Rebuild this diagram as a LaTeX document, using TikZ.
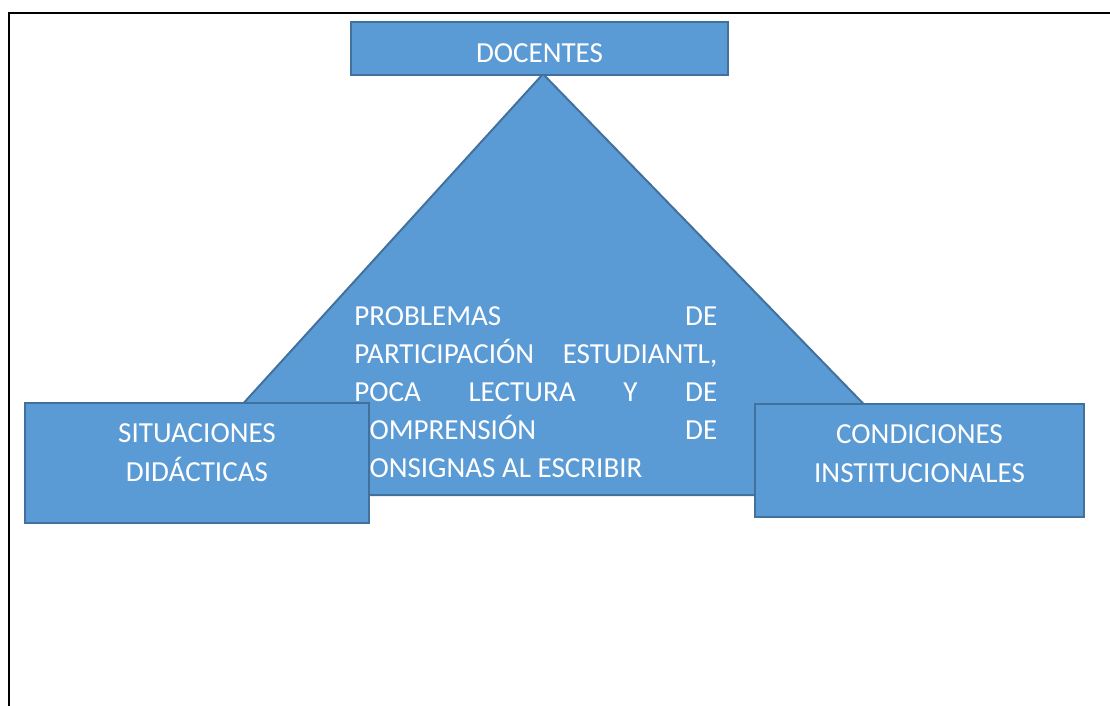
\documentclass[tikz,border=0pt]{standalone}
\usepackage{fontspec}
\setmainfont{Carlito}
\usepackage{tikz}
\usetikzlibrary{positioning}
\definecolor{OfficeBlue}{HTML}{5B9BD5}
\definecolor{OfficeEdge}{HTML}{41719C}

\begin{document}
\begin{tikzpicture}[x=0.75pt,y=-0.75pt,
      box/.style={draw=OfficeEdge,fill=OfficeBlue,line width=1.5pt,inner sep=0pt},
      boxtext/.style={text=white,align=center,inner sep=0pt,font=\fontsize{21.8}{29}\selectfont},
      core/.style={draw=OfficeEdge,fill=OfficeBlue,line width=1.5pt,line join=miter},
      coretext/.style={text=white,align=justify,text width=272.25pt,inner sep=0pt,anchor=north west,font=\fontsize{21.8}{28.5}\selectfont}
    ]
      \useasboundingbox (0,0) rectangle (1110,706);
      \clip (0,0) rectangle (1110,706);
      \draw[line width=1.5pt] (9,720) -- (9,13) -- (1120,13);

      % central triangle and its paragraph
      \coordinate (apex) at (543,74);
      \draw[core] (apex) -- (160,495) -- (952,495) -- cycle;
      \node[coretext] (problem) at (354,306) {PROBLEMAS DE\linebreak PARTICIPACIÓN ESTUDIANTL,\linebreak POCA LECTURA Y DE\linebreak COMPRENSIÓN DE\linebreak CONSIGNAS AL ESCRIBIR};

      % the three corners
      \node[box,minimum width=282.75pt,minimum height=39.75pt] (docentes) at (539.5,48.5) {};
      \node[boxtext] (docentestext) at ([yshift=-3.4pt]docentes.center) {DOCENTES};
      \node[box,minimum width=258pt,minimum height=90pt] (situaciones) at (197,463) {};
      \node[boxtext,align=center] (situacionestext) at ([yshift=7.9pt]situaciones.center) {SITUACIONES\\DIDÁCTICAS};
      \node[box,minimum width=246.75pt,minimum height=84.75pt] (condiciones) at (919.5,460.5) {};
      \node[boxtext] (condicionestext) at ([yshift=4.9pt]condiciones.center) {CONDICIONES\\INSTITUCIONALES};
    \end{tikzpicture}
\end{document}
